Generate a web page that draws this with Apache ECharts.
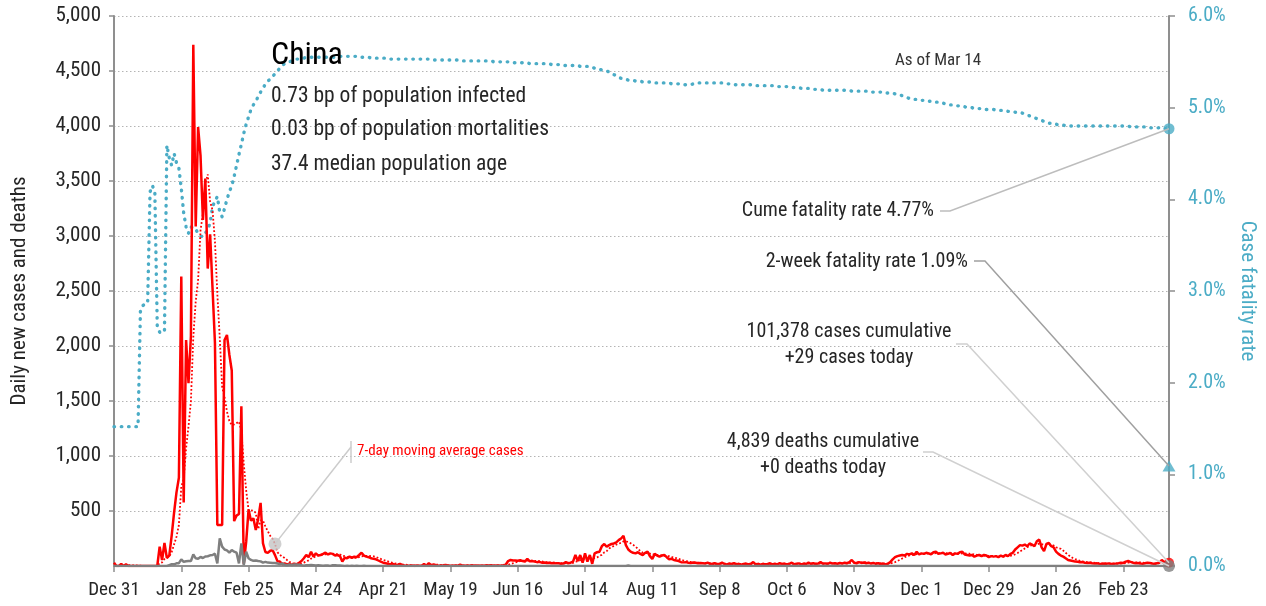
<!DOCTYPE html>
<html>
<head>
<meta charset="utf-8">
<script src="https://cdn.jsdelivr.net/npm/echarts@6.0.0/dist/echarts.min.js"></script>
<style>
  html, body { margin: 0; padding: 0; background: #fff; }
  #chart { width: 1266px; height: 606px; }
</style>
</head>
<body>
<div id="chart"></div>
<script>
// day 0 = Dec 31 2019, last day = Mar 14 2021 (day 439)
var xTickLabels = ['Dec 31', 'Jan 28', 'Feb 25', 'Mar 24', 'Apr 21', 'May 19', 'Jun 16', 'Jul 14',
  'Aug 11', 'Sep 8', 'Oct 6', 'Nov 3', 'Dec 1', 'Dec 29', 'Jan 26', 'Feb 23'];

// daily new cases
var cases = [
  30, 0, 0, 20, 0, 15, 0, 0, 0, 0,
  0, 0, 0, 0, 0, 0, 0, 0, 0, 176,
  55, 209, 73, 95, 277, 486, 669, 802, 2632, 578,
  2054, 1661, 2089, 4739, 3086, 3991, 3733, 3147, 3523, 2704,
  3015, 2525, 2032, 373, 373, 373, 2055, 2100, 1921, 1777,
  408, 458, 473, 1451, 21, 219, 513, 412, 434, 328,
  428, 574, 205, 127, 119, 139, 143, 99, 44, 40,
  19, 24, 15, 20, 11, 20, 16, 30, 45, 70,
  100, 80, 130, 85, 115, 95, 100, 110, 121, 105,
  115, 110, 95, 100, 90, 40, 75, 70, 85, 75,
  85, 80, 100, 121, 95, 85, 80, 70, 65, 61,
  50, 39, 30, 25, 20, 15, 18, 12, 10, 20,
  8, 5, 3, 2, 5, 1, 4, 3, 2, 17,
  4, 25, 8, 15, 7, 3, 5, 6, 10, 5,
  3, 2, 4, 3, 11, 5, 3, 4, 2, 6,
  3, 5, 2, 4, 3, 8, 5, 6, 3, 4,
  5, 3, 6, 11, 45, 55, 50, 50, 48, 52,
  45, 40, 66, 42, 45, 40, 35, 38, 30, 32,
  28, 30, 25, 28, 24, 25, 20, 22, 35, 25,
  30, 40, 100, 45, 100, 30, 115, 40, 100, 20,
  115, 125, 130, 180, 200, 175, 190, 200, 205, 215,
  235, 250, 275, 190, 150, 130, 120, 115, 125, 110,
  100, 120, 130, 90, 65, 110, 95, 85, 95, 100,
  80, 61, 65, 55, 50, 45, 35, 33, 35, 30,
  28, 32, 30, 25, 28, 25, 22, 30, 20, 18,
  25, 15, 20, 30, 18, 14, 22, 18, 25, 15,
  20, 12, 18, 22, 14, 20, 35, 15, 18, 12,
  20, 15, 18, 25, 14, 20, 15, 25, 18, 22,
  14, 20, 30, 16, 20, 24, 15, 22, 18, 30,
  20, 25, 18, 22, 35, 20, 24, 18, 30, 22,
  25, 20, 28, 22, 30, 25, 35, 55, 30, 25,
  35, 28, 32, 25, 30, 22, 28, 20, 25, 18,
  22, 15, 20, 35, 60, 80, 90, 95, 100, 95,
  110, 105, 115, 100, 130, 105, 115, 110, 120, 115,
  105, 125, 130, 110, 115, 120, 105, 110, 120, 100,
  115, 110, 125, 130, 105, 100, 95, 100, 85, 95,
  100, 90, 100, 95, 80, 90, 85, 90, 80, 95,
  85, 100, 90, 110, 120, 150, 170, 190, 185, 195,
  180, 205, 195, 180, 225, 240, 170, 135, 200, 210,
  180, 170, 130, 110, 95, 85, 70, 55, 50, 45,
  40, 38, 35, 36, 30, 28, 30, 25, 22, 24,
  20, 18, 22, 20, 24, 18, 20, 22, 25, 30,
  28, 40, 45, 38, 30, 25, 28, 22, 20, 25,
  30, 28, 22, 18, 25, 30, 55, 35, 30, 29
];

// daily new deaths
var deaths = [
  0, 0, 0, 0, 0, 0, 0, 0, 0, 0,
  0, 0, 0, 0, 0, 0, 0, 0, 0, 0,
  0, 0, 0, 8, 16, 15, 24, 26, 60, 38,
  43, 46, 45, 105, 70, 66, 82, 73, 86, 89,
  97, 100, 112, 24, 252, 176, 150, 142, 121, 145,
  130, 121, 24, 206, 9, 130, 70, 55, 47, 50,
  45, 42, 31, 38, 31, 30, 28, 27, 22, 17,
  22, 11, 7, 13, 10, 14, 13, 11, 8, 3,
  7, 6, 9, 7, 4, 6, 5, 3, 5, 4,
  1, 7, 6, 4, 4, 3, 1, 2, 1, 2,
  0, 3, 1, 1, 2, 1, 0, 1, 0, 0,
  1, 0, 0, 0, 0, 0, 0, 0, 0, 0,
  0, 0, 0, 0, 0, 0, 0, 0, 0, 0,
  0, 0, 0, 0, 0, 0, 0, 0, 0, 0,
  0, 0, 0, 0, 0, 0, 0, 0, 0, 0,
  0, 0, 0, 0, 0, 0, 0, 0, 0, 0,
  0, 0, 0, 0, 0, 0, 0, 0, 0, 0,
  0, 0, 0, 0, 0, 0, 0, 0, 0, 0,
  0, 0, 0, 0, 0, 0, 0, 0, 0, 0,
  0, 0, 0, 0, 0, 0, 0, 0, 0, 0,
  0, 0, 0, 0, 0, 0, 0, 0, 0, 0,
  0, 0, 0, 0, 5, 0, 0, 0, 0, 0,
  0, 0, 0, 0, 0, 0, 0, 0, 0, 0,
  0, 0, 0, 0, 0, 0, 0, 0, 0, 0,
  0, 0, 0, 0, 0, 0, 0, 0, 0, 0,
  0, 0, 0, 0, 0, 0, 0, 0, 0, 0,
  0, 0, 0, 0, 0, 0, 0, 0, 0, 0,
  0, 0, 0, 0, 0, 0, 0, 0, 0, 0,
  0, 0, 0, 0, 0, 0, 0, 0, 0, 0,
  0, 0, 0, 0, 0, 0, 0, 0, 0, 0,
  0, 0, 0, 0, 0, 0, 0, 0, 0, 0,
  0, 0, 0, 0, 0, 0, 0, 0, 0, 0,
  0, 0, 0, 0, 0, 0, 0, 0, 0, 0,
  0, 0, 0, 0, 0, 0, 0, 0, 0, 0,
  0, 0, 0, 0, 0, 0, 0, 0, 0, 0,
  0, 0, 0, 0, 0, 0, 0, 0, 0, 0,
  0, 0, 0, 0, 0, 0, 0, 0, 0, 0,
  0, 0, 0, 0, 0, 0, 0, 0, 0, 0,
  0, 1, 0, 0, 0, 1, 0, 0, 0, 0,
  0, 0, 0, 0, 0, 0, 0, 0, 0, 0,
  0, 0, 0, 0, 0, 0, 0, 0, 0, 0,
  0, 0, 0, 0, 0, 0, 0, 0, 0, 0,
  0, 0, 0, 0, 0, 0, 0, 0, 0, 0,
  0, 0, 0, 0, 0, 0, 0, 0, 0, 0
];

// cumulative case fatality rate, %
var cfr = [
  1.52, 1.52, 1.52, 1.52, 1.52, 1.52, 1.52, 1.52, 1.52, 1.52,
  1.52, 2.79, 2.84, 2.86, 2.87, 4.08, 4.15, 4.07, 2.62, 2.55,
  2.54, 2.56, 4.59, 4.45, 4.37, 4.50, 4.40, 4.34, 4.12, 3.85,
  3.70, 3.63, 3.70, 3.68, 3.68, 3.62, 3.60, 3.59, 3.63, 3.67,
  3.74, 3.92, 3.98, 4.03, 3.86, 3.81, 3.90, 4.00, 4.08, 4.15,
  4.25, 4.37, 4.49, 4.60, 4.72, 4.82, 4.90, 4.98, 5.03, 5.07,
  5.12, 5.17, 5.21, 5.26, 5.29, 5.31, 5.34, 5.37, 5.40, 5.43,
  5.46, 5.48, 5.49, 5.50, 5.51, 5.52, 5.53, 5.53, 5.54, 5.54,
  5.55, 5.55, 5.55, 5.55, 5.55, 5.55, 5.55, 5.55, 5.55, 5.55,
  5.55, 5.55, 5.55, 5.56, 5.56, 5.56, 5.56, 5.56, 5.56, 5.56,
  5.56, 5.56, 5.55, 5.55, 5.55, 5.55, 5.55, 5.54, 5.54, 5.54,
  5.54, 5.54, 5.54, 5.54, 5.53, 5.53, 5.53, 5.53, 5.53, 5.53,
  5.53, 5.53, 5.53, 5.53, 5.53, 5.53, 5.53, 5.53, 5.53, 5.53,
  5.53, 5.53, 5.53, 5.52, 5.52, 5.52, 5.52, 5.52, 5.52, 5.52,
  5.52, 5.52, 5.52, 5.52, 5.51, 5.51, 5.51, 5.51, 5.51, 5.51,
  5.51, 5.51, 5.51, 5.51, 5.51, 5.51, 5.51, 5.51, 5.50, 5.50,
  5.50, 5.50, 5.50, 5.50, 5.50, 5.49, 5.49, 5.49, 5.49, 5.49,
  5.49, 5.49, 5.49, 5.48, 5.48, 5.48, 5.48, 5.48, 5.48, 5.48,
  5.48, 5.48, 5.47, 5.47, 5.47, 5.47, 5.47, 5.46, 5.46, 5.46,
  5.46, 5.46, 5.46, 5.46, 5.45, 5.45, 5.45, 5.45, 5.44, 5.44,
  5.43, 5.43, 5.42, 5.41, 5.40, 5.40, 5.39, 5.38, 5.36, 5.35,
  5.33, 5.32, 5.31, 5.31, 5.30, 5.30, 5.30, 5.29, 5.29, 5.29,
  5.28, 5.28, 5.28, 5.28, 5.28, 5.27, 5.27, 5.27, 5.27, 5.27,
  5.27, 5.27, 5.26, 5.26, 5.26, 5.26, 5.26, 5.25, 5.25, 5.25,
  5.25, 5.26, 5.27, 5.27, 5.27, 5.27, 5.27, 5.27, 5.27, 5.27,
  5.27, 5.27, 5.27, 5.27, 5.27, 5.26, 5.26, 5.26, 5.25, 5.25,
  5.25, 5.25, 5.25, 5.25, 5.25, 5.25, 5.24, 5.24, 5.24, 5.24,
  5.24, 5.24, 5.24, 5.24, 5.24, 5.24, 5.23, 5.23, 5.23, 5.23,
  5.23, 5.23, 5.22, 5.22, 5.22, 5.22, 5.21, 5.21, 5.21, 5.21,
  5.21, 5.20, 5.20, 5.20, 5.20, 5.19, 5.19, 5.19, 5.19, 5.19,
  5.19, 5.19, 5.19, 5.19, 5.19, 5.19, 5.19, 5.18, 5.18, 5.18,
  5.18, 5.18, 5.18, 5.18, 5.17, 5.17, 5.17, 5.17, 5.17, 5.17,
  5.16, 5.16, 5.16, 5.16, 5.16, 5.15, 5.15, 5.14, 5.13, 5.12,
  5.11, 5.10, 5.10, 5.09, 5.09, 5.09, 5.08, 5.08, 5.08, 5.07,
  5.07, 5.07, 5.06, 5.06, 5.05, 5.05, 5.04, 5.04, 5.03, 5.03,
  5.03, 5.02, 5.02, 5.01, 5.01, 5.00, 5.00, 5.00, 4.99, 4.99,
  4.99, 4.99, 4.98, 4.98, 4.98, 4.98, 4.98, 4.97, 4.97, 4.97,
  4.97, 4.97, 4.96, 4.96, 4.96, 4.95, 4.95, 4.95, 4.94, 4.93,
  4.92, 4.91, 4.90, 4.89, 4.88, 4.87, 4.86, 4.85, 4.84, 4.83,
  4.83, 4.82, 4.82, 4.81, 4.81, 4.81, 4.80, 4.80, 4.80, 4.80,
  4.80, 4.80, 4.80, 4.80, 4.80, 4.80, 4.80, 4.80, 4.80, 4.80,
  4.80, 4.80, 4.80, 4.80, 4.80, 4.80, 4.80, 4.80, 4.80, 4.80,
  4.80, 4.80, 4.80, 4.79, 4.79, 4.79, 4.79, 4.79, 4.79, 4.79,
  4.79, 4.78, 4.78, 4.78, 4.78, 4.78, 4.78, 4.77, 4.77, 4.77
];

var twoWeekRate = 1.09;
var lastDay = cases.length - 1;
var maLabelDay = 67;

// 7-day trailing average of the case series
var movingAvg = cases.map(function (v, i) {
  if (i < 6) return '-';
  var s = 0;
  for (var k = i - 6; k <= i; k++) s += cases[k];
  return s / 7;
});

function pairs(arr) {
  return arr.map(function (v, i) { return [i, v]; });
}

function commas(v) {
  return String(v).replace(/\B(?=(\d{3})+(?!\d))/g, ',');
}

var COND = "'Roboto Condensed', 'Liberation Sans Narrow', sans-serif";
var TEAL = '#4bacc6';
var AXIS = '#8f8f8f';
var INK = '#262626';

var chart = echarts.init(document.getElementById('chart'));

var option = {
  animation: false,
  backgroundColor: '#fff',
  grid: { left: 114, right: 90, top: 16, bottom: 40 },
  xAxis: {
    type: 'value', min: 0, max: lastDay, interval: 28,
    axisLine: { lineStyle: { color: AXIS, width: 2 } },
    axisTick: { length: 6, lineStyle: { color: AXIS, width: 1.5 } },
    axisLabel: {
      color: INK, fontFamily: COND, fontSize: 19, margin: 15, showMaxLabel: false,
      formatter: function (v) { return v % 28 === 0 ? (xTickLabels[v / 28] || '') : ''; }
    },
    splitLine: { show: false }
  },
  yAxis: [{
    type: 'value', min: 0, max: 5000, interval: 500, position: 'left',
    name: 'Daily new cases and deaths', nameLocation: 'middle', nameGap: 84, nameRotate: 90,
    nameTextStyle: { color: INK, fontFamily: COND, fontSize: 21 },
    axisLine: { show: true, lineStyle: { color: AXIS, width: 2 } },
    axisTick: { show: true, length: 5, lineStyle: { color: AXIS, width: 1.5 } },
    axisLabel: { color: INK, fontFamily: COND, fontSize: 21, margin: 13, showMinLabel: false, formatter: commas },
    splitLine: { show: true, lineStyle: { color: '#b4b4b4', width: 1, type: [1.5, 2.5] } }
  }, {
    type: 'value', min: 0, max: 6, interval: 1, position: 'right',
    name: 'Case fatality rate', nameLocation: 'middle', nameGap: 68, nameRotate: -90,
    nameTextStyle: { color: TEAL, fontFamily: COND, fontSize: 21 },
    axisLine: { show: true, lineStyle: { color: AXIS, width: 2 } },
    axisTick: { show: true, length: 6, lineStyle: { color: AXIS, width: 1.5 } },
    axisLabel: { color: TEAL, fontFamily: COND, fontSize: 20, margin: 19,
      formatter: function (v) { return v.toFixed(1) + '%'; } },
    splitLine: { show: false }
  }],
  series: [{
    name: 'Case fatality rate', type: 'line', yAxisIndex: 1, data: pairs(cfr),
    showSymbol: false, z: 2,
    lineStyle: { color: TEAL, width: 3.4, type: [0.5, 6.8], cap: 'round' }
  }, {
    name: 'Cases', type: 'line', data: pairs(cases), showSymbol: false, z: 3,
    lineStyle: { color: '#ff0000', width: 2.5 }
  }, {
    name: '7-day average', type: 'line', data: pairs(movingAvg), showSymbol: false, z: 4,
    lineStyle: { color: '#ff0000', width: 1.8, type: [1.8, 2] }
  }, {
    name: 'Deaths', type: 'line', data: pairs(deaths), showSymbol: false, z: 5,
    lineStyle: { color: '#7f7f7f', width: 2.5 }
  }, {
    type: 'scatter', yAxisIndex: 1, clip: false, z: 10, silent: true,
    data: [[lastDay, cfr[lastDay]]], symbol: 'circle', symbolSize: 11,
    itemStyle: { color: TEAL }
  }, {
    type: 'scatter', yAxisIndex: 1, clip: false, z: 10, silent: true,
    data: [[lastDay, twoWeekRate]], symbol: 'triangle', symbolSize: [13, 11],
    itemStyle: { color: TEAL }
  }, {
    type: 'scatter', clip: false, z: 10, silent: true,
    data: [[lastDay, cases[lastDay]]], symbol: 'circle', symbolSize: 10,
    itemStyle: { color: '#ff0000' }
  }, {
    type: 'scatter', clip: false, z: 11, silent: true,
    data: [[lastDay, deaths[lastDay]]], symbol: 'circle', symbolSize: 12,
    itemStyle: { color: '#7f7f7f' }
  }, {
    type: 'scatter', clip: false, z: 11, silent: true,
    data: [[maLabelDay, movingAvg[maLabelDay]]], symbol: 'circle', symbolSize: 13,
    itemStyle: { color: '#c4c4c4' }
  }]
};

chart.setOption(option);

function px(yAxisIndex, pt) {
  return chart.convertToPixel({ xAxisIndex: 0, yAxisIndex: yAxisIndex }, pt);
}

var pCfr = px(1, [lastDay, cfr[lastDay]]);
var pTwoWeek = px(1, [lastDay, twoWeekRate]);
var pCases = px(0, [lastDay, cases[lastDay]]);
var pDeaths = px(0, [lastDay, deaths[lastDay]]);
var pMa = px(0, [maLabelDay, movingAvg[maLabelDay]]);

function label(x, y, text, size, color, align) {
  return {
    type: 'text', x: x, y: y, z: 50, silent: true,
    style: {
      text: text, font: size + 'px ' + COND, fill: color || INK,
      align: align || 'left', verticalAlign: 'middle',
      textAlign: align || 'left', textVerticalAlign: 'middle'
    }
  };
}

function leader(points, color) {
  return {
    type: 'polyline', z: 40, silent: true,
    shape: { points: points },
    style: { stroke: color, lineWidth: 1.5, fill: null }
  };
}

chart.setOption({
  graphic: [
    label(271, 56, 'China', 32, '#000'),
    label(271, 97, '0.73 bp of population infected', 21.5),
    label(271, 130, '0.03 bp of population mortalities', 21.5),
    label(271, 165, '37.4 median population age', 21.5),
    label(895, 61, 'As of Mar 14', 17, '#333'),
    label(934, 211, 'Cume fatality rate 4.77%', 20, INK, 'right'),
    label(968, 262, '2-week fatality rate 1.09%', 20, INK, 'right'),
    label(849, 332, '101,378 cases cumulative', 20, INK, 'center'),
    label(849, 358, '+29 cases today', 20, INK, 'center'),
    label(823, 442, '4,839 deaths cumulative', 20, INK, 'center'),
    label(823, 468, '+0 deaths today', 20, INK, 'center'),
    label(357, 451, '7-day moving average cases', 15, '#ff0000'),
    leader([[940, 211], [950, 211], pCfr], '#bdbdbd'),
    leader([[974, 261], [985, 261], pTwoWeek], '#a0a0a0'),
    leader([[956, 344], [967, 344], pCases], '#d0d0d0'),
    leader([[923, 452], [933, 452], pDeaths], '#d0d0d0'),
    leader([pMa, [351, 447]], '#cccccc'),
    leader([[351, 441], [351, 463]], '#cccccc')
  ]
});
</script>
</body>
</html>
